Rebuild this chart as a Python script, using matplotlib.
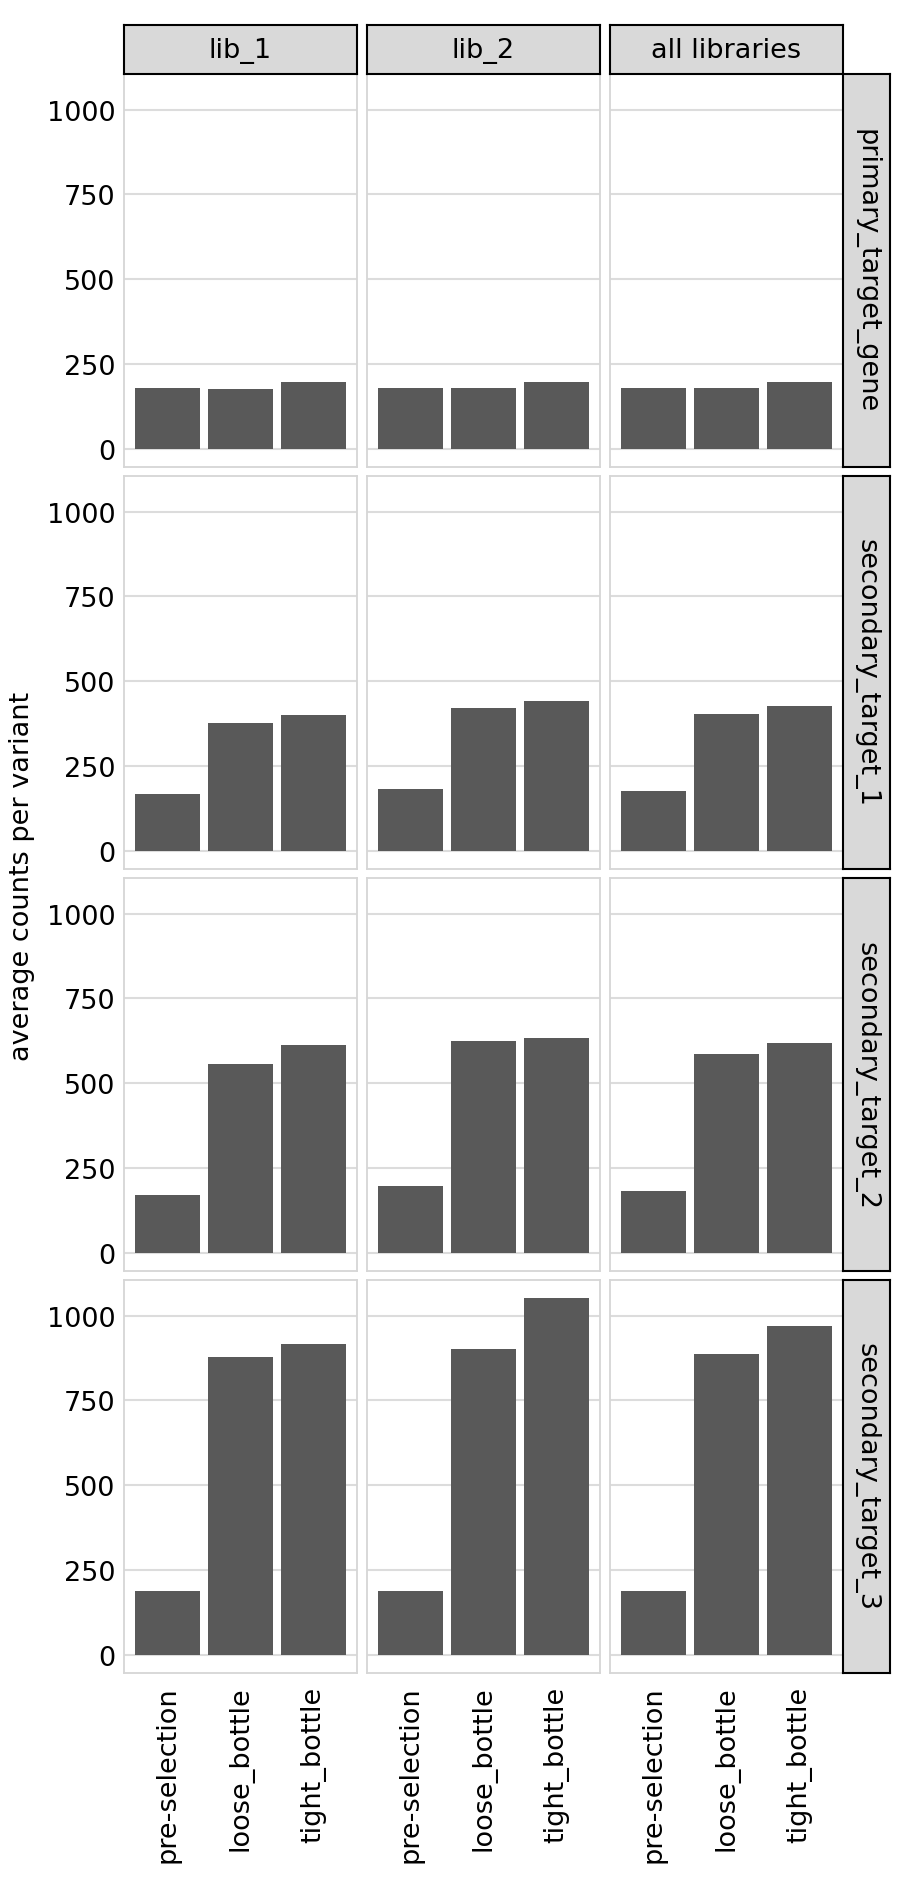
import matplotlib
matplotlib.use("Agg")
import matplotlib.pyplot as plt
import numpy as np

# data
samples = ["pre-selection", "loose_bottle", "tight_bottle"]
libraries = ["lib_1", "lib_2", "all libraries"]
targets = ["primary_target_gene", "secondary_target_1", "secondary_target_2", "secondary_target_3"]

# average counts per variant, [target][library][sample]
primary_target_gene = [[179, 176, 197], [179, 179, 197], [179, 179, 197]]
secondary_target_1 = [[167, 378, 402], [184, 422, 443], [176, 404, 428]]
secondary_target_2 = [[172, 556, 612], [198, 624, 633], [184, 585, 620]]
secondary_target_3 = [[190, 877, 916], [190, 902, 1052], [190, 887, 969]]
counts = [primary_target_gene, secondary_target_1, secondary_target_2, secondary_target_3]

plt.rcParams["font.family"] = ["DejaVu Sans"]
FS = 19.5
W, H = 900, 1890
fig = plt.figure(figsize=(W / 100, H / 100), dpi=100)

col_left = [124, 367, 610]
col_w = 233
row_top = [75, 477, 879, 1281]
row_h = 393
strip_h = 49
strip_w = 47

ymax = max(max(max(l) for l in t) for t in counts)
ylim = (-0.05 * ymax, 1.05 * ymax)
x = np.arange(len(samples))

def box(l, t, w, h):
    return [l / W, 1 - (t + h) / H, w / W, h / H]

for r, tname in enumerate(targets):
    for c, lib in enumerate(libraries):
        ax = fig.add_axes(box(col_left[c], row_top[r], col_w, row_h))
        ax.bar(x, counts[r][c], width=0.9, color="#595959", zorder=2)
        ax.set_xlim(-0.6, len(samples) - 0.4)
        ax.set_ylim(*ylim)
        ax.set_yticks([0, 250, 500, 750, 1000])
        ax.grid(axis="y", color="#dcdcdc", linewidth=1.5, zorder=0)
        ax.set_axisbelow(True)
        for s in ax.spines.values():
            s.set_color("#d6d6d6")
            s.set_linewidth(1.3)
        ax.tick_params(length=0, labelsize=FS, pad=6)
        ax.set_xticks(x)
        if r == len(targets) - 1:
            ax.set_xticklabels(samples, rotation=90, fontsize=FS)
            ax.tick_params(axis="x", pad=9)
        else:
            ax.set_xticklabels([])
        if c != 0:
            ax.set_yticklabels([])

        # column strips on top
        if r == 0:
            sa = fig.add_axes(box(col_left[c], row_top[0] - strip_h, col_w, strip_h))
            sa.set_facecolor("#d9d9d9")
            sa.set_xticks([]); sa.set_yticks([])
            for s in sa.spines.values():
                s.set_color("black"); s.set_linewidth(1.5)
            sa.text(0.5, 0.5, lib, ha="center", va="center", fontsize=FS, transform=sa.transAxes)

    # row strip on the right
    ra = fig.add_axes(box(col_left[-1] + col_w, row_top[r], strip_w, row_h))
    ra.set_facecolor("#d9d9d9")
    ra.set_xticks([]); ra.set_yticks([])
    for s in ra.spines.values():
        s.set_color("black"); s.set_linewidth(1.5)
    ra.text(0.5, 0.5, tname, ha="center", va="center", rotation=-90, fontsize=FS, transform=ra.transAxes)

fig.text(22 / W, 1 - 876 / H, "average counts per variant", rotation=90,
         ha="center", va="center", fontsize=FS)

fig.savefig("out.png", dpi=100, facecolor="white")
